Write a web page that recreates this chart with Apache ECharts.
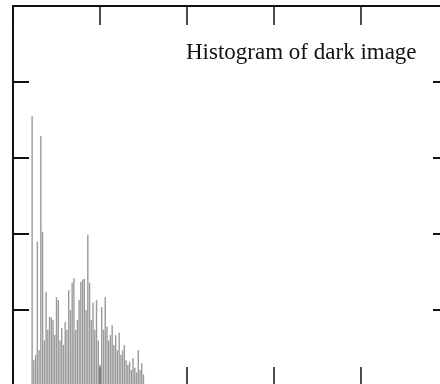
<!DOCTYPE html>
<html>
<head>
<meta charset="utf-8">
<script src="https://cdn.jsdelivr.net/npm/echarts@6/dist/echarts.min.js"></script>
<style>
  html, body { margin: 0; padding: 0; background: #fff; overflow: hidden; }
  /* the scan is cropped: the right and bottom frame lines fall just outside the window */
  #chart { width: 449px; height: 387px; }
</style>
</head>
<body>
<div id="chart"></div>
<script>
// gray levels (0-255) and pixel counts
const grayLevels = [
  11, 12, 13, 14, 15, 16, 17, 18, 19, 20,
  21, 22, 23, 24, 25, 26, 27, 28, 29, 30,
  31, 32, 33, 34, 35, 36, 37, 38, 39, 40,
  41, 42, 43, 44, 45, 46, 47, 48, 49, 50,
  51, 52, 53, 54, 55, 56, 57, 58, 59, 60,
  61, 62, 63, 64, 65, 66, 67, 68, 69, 70,
  71, 72, 73, 74, 75
];
const counts = [
  3550, 340, 410, 1900, 470, 3290, 2030, 600, 1240, 740,
  910, 900, 870, 670, 1170, 1130, 600, 760, 540, 840,
  740, 1260, 1000, 1360, 1420, 740, 870, 1130, 1370, 1400,
  1410, 1000, 1990, 1360, 870, 1100, 740, 1130, 600, 280,
  1040, 740, 1170, 780, 600, 670, 800, 540, 670, 470,
  700, 410, 470, 540, 340, 280, 320, 210, 370, 240,
  180, 470, 210, 300, 150
];
const xTicks = [0, 250, 50];      // min, max, step
const yTicks = [0, 5000, 1000];
const titleText = 'Histogram of dark image';

const chart = echarts.init(document.getElementById('chart'));

const frame = {color: '#111', width: 2};

function xAxis(position) {
  return {
    type: 'value', position: position,
    min: xTicks[0], max: xTicks[1], interval: xTicks[2],
    axisLine: {show: true, onZero: false, lineStyle: frame},
    axisTick: {show: true, inside: true, length: 19, lineStyle: {color: '#111', width: 1.5}},
    axisLabel: {show: false},
    splitLine: {show: false}
  };
}
function yAxis(position, len) {
  return {
    type: 'value', position: position,
    min: yTicks[0], max: yTicks[1], interval: yTicks[2],
    axisLine: {show: true, onZero: false, lineStyle: frame},
    axisTick: {show: true, inside: true, length: len, lineStyle: {color: '#111', width: 2}},
    axisLabel: {show: false},
    splitLine: {show: false}
  };
}

chart.setOption({
  animation: false,
  backgroundColor: '#fff',
  grid: {left: 13, top: 6, right: 1, bottom: 1, containLabel: false},
  title: {
    text: titleText,
    left: 181, top: 36,
    textStyle: {fontFamily: 'Liberation Serif', fontSize: 23, fontWeight: 'normal', color: '#111'}
  },
  xAxis: [xAxis('bottom'), xAxis('top')],
  yAxis: [yAxis('left', 16), yAxis('right', 15)],
  series: [{
    type: 'bar',
    xAxisIndex: 0, yAxisIndex: 0,
    barWidth: 1.4,
    itemStyle: {color: '#9a9a9a'},
    data: grayLevels.map((g, i) => [g, counts[i]])
  }]
});
</script>
</body>
</html>
